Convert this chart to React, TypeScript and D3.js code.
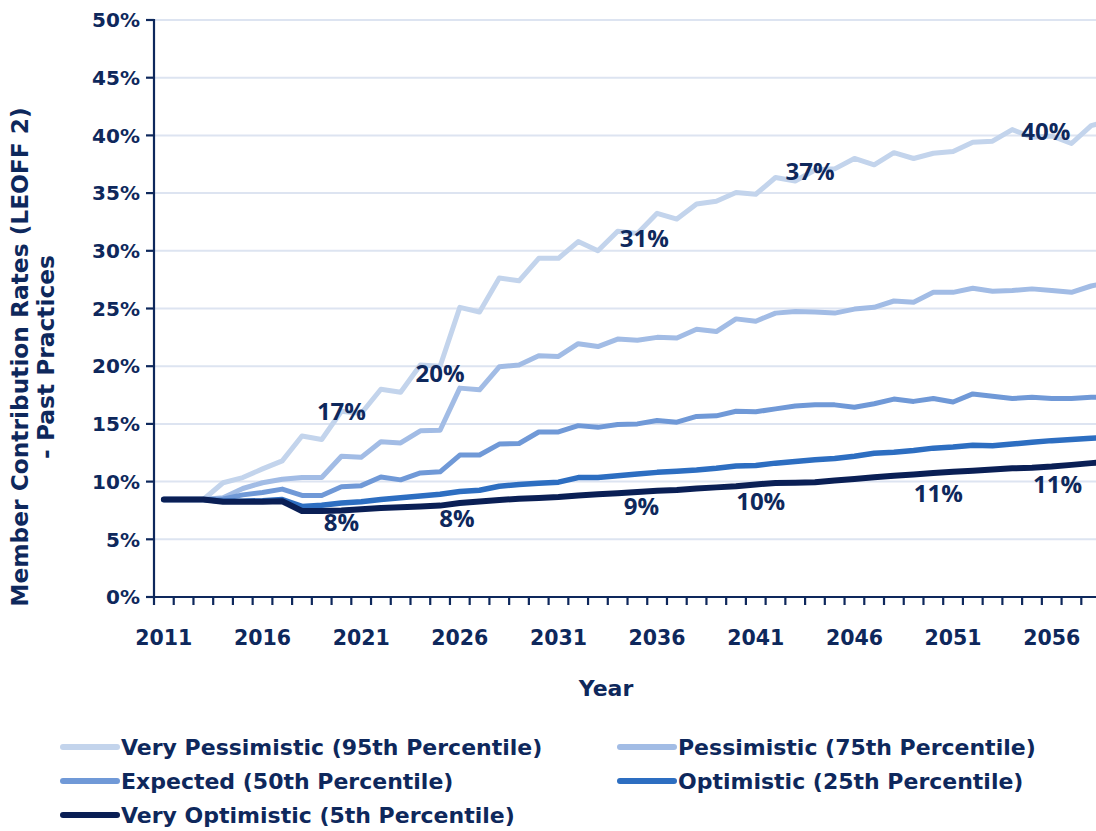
import React from "react";
import * as d3 from "d3";

const years: number[] = [
  2011, 2012, 2013, 2014, 2015, 2016, 2017, 2018, 2019, 2020,
  2021, 2022, 2023, 2024, 2025, 2026, 2027, 2028, 2029, 2030,
  2031, 2032, 2033, 2034, 2035, 2036, 2037, 2038, 2039, 2040,
  2041, 2042, 2043, 2044, 2045, 2046, 2047, 2048, 2049, 2050,
  2051, 2052, 2053, 2054, 2055, 2056, 2057, 2058, 2059,
];

const veryPessimistic: number[] = [
  8.45, 8.45, 8.45, 9.9, 10.35, 11.1, 11.8, 13.95, 13.65, 16.1,
  15.9, 18.0, 17.75, 20.1, 20.0, 25.1, 24.7, 27.65, 27.4, 29.35,
  29.35, 30.8, 30.0, 31.7, 31.5, 33.25, 32.75, 34.05, 34.3, 35.05,
  34.9, 36.35, 36.05, 37.0, 37.1, 38.0, 37.45, 38.5, 38.0, 38.45,
  38.6, 39.4, 39.5, 40.5, 39.85, 39.95, 39.3, 40.85, 41.3,
];
const pessimistic: number[] = [
  8.45, 8.45, 8.45, 8.6, 9.4, 9.9, 10.2, 10.35, 10.35, 12.2,
  12.1, 13.45, 13.35, 14.4, 14.45, 18.1, 17.95, 19.95, 20.1, 20.9,
  20.85, 21.95, 21.7, 22.35, 22.25, 22.5, 22.45, 23.2, 23.0, 24.1,
  23.9, 24.6, 24.75, 24.7, 24.6, 24.95, 25.1, 25.65, 25.55, 26.4,
  26.4, 26.75, 26.5, 26.55, 26.7, 26.55, 26.4, 26.95, 27.3,
];
const expected: number[] = [
  8.45, 8.45, 8.45, 8.5, 8.85, 9.05, 9.35, 8.8, 8.8, 9.55,
  9.65, 10.4, 10.15, 10.75, 10.85, 12.3, 12.3, 13.25, 13.3, 14.3,
  14.3, 14.85, 14.7, 14.95, 15.0, 15.3, 15.15, 15.65, 15.7, 16.1,
  16.05, 16.3, 16.55, 16.65, 16.65, 16.45, 16.75, 17.15, 16.95, 17.2,
  16.9, 17.6, 17.4, 17.2, 17.3, 17.2, 17.2, 17.3, 17.35,
];
const optimistic: number[] = [
  8.45, 8.45, 8.45, 8.3, 8.3, 8.35, 8.45, 7.85, 7.95, 8.15,
  8.25, 8.45, 8.6, 8.75, 8.9, 9.15, 9.25, 9.6, 9.75, 9.85,
  9.95, 10.35, 10.35, 10.5, 10.65, 10.8, 10.9, 11.0, 11.15, 11.35,
  11.4, 11.6, 11.75, 11.9, 12.0, 12.2, 12.45, 12.55, 12.7, 12.9,
  13.0, 13.15, 13.1, 13.25, 13.4, 13.55, 13.65, 13.75, 13.85,
];
const veryOptimistic: number[] = [
  8.45, 8.45, 8.45, 8.25, 8.25, 8.25, 8.3, 7.45, 7.45, 7.5,
  7.6, 7.72, 7.78, 7.85, 7.92, 8.15, 8.28, 8.4, 8.52, 8.58,
  8.66, 8.8, 8.9, 9.0, 9.1, 9.2, 9.28, 9.4, 9.5, 9.6,
  9.75, 9.88, 9.9, 9.95, 10.1, 10.23, 10.37, 10.5, 10.62, 10.75,
  10.85, 10.95, 11.05, 11.15, 11.2, 11.3, 11.45, 11.6, 11.75,
];

const seriesNames: string[] = [
  "Very Pessimistic (95th Percentile)",
  "Pessimistic (75th Percentile)",
  "Expected (50th Percentile)",
  "Optimistic (25th Percentile)",
  "Very Optimistic (5th Percentile)",
];
const seriesColors: string[] = ["#C3D4EC", "#A2BCE5", "#7099D7", "#2D6EC1", "#0A1F55"];
const seriesWidths: number[] = [5, 5, 5, 5.5, 6];
const seriesValues: number[][] = [veryPessimistic, pessimistic, expected, optimistic, veryOptimistic];

const yTicks: number[] = [0, 5, 10, 15, 20, 25, 30, 35, 40, 45, 50];
const xTickLabels: number[] = [2011, 2016, 2021, 2026, 2031, 2036, 2041, 2046, 2051, 2056];

// annotation labels: anchor year, anchor value, text
const labelYears: number[] = [2020, 2025.0, 2035.35, 2043.75, 2055.7, 2020, 2025.85, 2035.2, 2041.25, 2050.25, 2056.3];
const labelValues: number[] = [15.3, 18.6, 30.3, 36.1, 39.6, 5.7, 6.05, 7.1, 7.5, 8.2, 9.05];
const labelTexts: string[] = ["17%", "20%", "31%", "37%", "40%", "8%", "8%", "9%", "10%", "11%", "11%"];

const W = 1096;
const H = 831;
const left = 154;
const top = 20;
const bottom = 597;
const step = 19.73;
const navy = "#0E285C";

export default function App() {
  const x = d3
    .scaleBand<number>()
    .domain(years)
    .range([left, left + step * years.length])
    .paddingInner(0)
    .paddingOuter(0);
  const xc = (yr: number) => (x(yr) as number) + x.bandwidth() / 2;
  const xl = d3.scaleLinear().domain([years[0], years[1]]).range([xc(years[0]), xc(years[1])]);
  const y = d3.scaleLinear().domain([0, 50]).range([bottom, top]);

  const line = d3
    .line<number>()
    .x((_, i) => xc(years[i]))
    .y((d) => y(d));

  const legendRows = [747, 781, 815];
  const legendCols = [63, 620];

  return (
    <svg
      width={W}
      height={H}
      style={{ position: "absolute", left: 0, top: 0, background: "#fff" }}
      fontFamily="'DejaVu Sans', sans-serif"
    >
      <rect x={0} y={0} width={W} height={H} fill="#fff" />
      {yTicks.filter((t) => t > 0).map((t) => (
        <line key={"g" + t} x1={left} x2={W} y1={y(t)} y2={y(t)} stroke="#DDE4F1" strokeWidth={2} />
      ))}
      {seriesValues.map((vals, k) => (
        <path
          key={"s" + k}
          d={line(vals) || ""}
          fill="none"
          stroke={seriesColors[k]}
          strokeWidth={seriesWidths[k]}
          strokeLinejoin="round"
          strokeLinecap="round"
        />
      ))}
      <line x1={left} x2={left} y1={top - 1} y2={bottom} stroke={navy} strokeWidth={2.2} />
      {yTicks.map((t) => (
        <g key={"yt" + t}>
          <line x1={left - 8} x2={left} y1={y(t)} y2={y(t)} stroke={navy} strokeWidth={2.2} />
          <text x={140} y={y(t)} dy="0.36em" textAnchor="end" fontSize={20} fontWeight="bold" fill={navy}>
            {t}%
          </text>
        </g>
      ))}
      <line x1={left} x2={W} y1={bottom} y2={bottom} stroke={navy} strokeWidth={2.2} />
      {years.map((yr) => (
        <line
          key={"xt" + yr}
          x1={x(yr) as number}
          x2={x(yr) as number}
          y1={bottom}
          y2={bottom + 8}
          stroke={navy}
          strokeWidth={2.2}
        />
      ))}
      {xTickLabels.map((yr) => (
        <text key={"xl" + yr} x={xc(yr)} y={645} textAnchor="middle" fontSize={20.5} fontWeight="bold" fill={navy}>
          {yr}
        </text>
      ))}
      <text x={606} y={696} textAnchor="middle" fontSize={22} fontWeight="bold" fill={navy}>
        Year
      </text>
      <g transform="translate(28,357) rotate(-90)">
        <text x={0} y={0} textAnchor="middle" fontSize={23.3} fontWeight="bold" fill={navy}>
          Member Contribution Rates (LEOFF 2)
        </text>
        <text x={0} y={26} textAnchor="middle" fontSize={23.3} fontWeight="bold" fill={navy}>
          - Past Practices
        </text>
      </g>
      {labelTexts.map((t, i) => (
        <text
          key={"dl" + i}
          x={xl(labelYears[i])}
          y={y(labelValues[i])}
          textAnchor="middle"
          fontFamily="'Open Sans', sans-serif"
          fontSize={24}
          fontWeight="bold"
          fill={navy}
        >
          {t}
        </text>
      ))}
      {seriesNames.map((name, k) => {
        const row = Math.floor(k / 2);
        const col = k % 2;
        const lx = legendCols[col];
        const ly = legendRows[row];
        return (
          <g key={"lg" + k}>
            <line x1={lx} x2={lx + 54} y1={ly} y2={ly} stroke={seriesColors[k]} strokeWidth={6} strokeLinecap="round" />
            <text x={lx + 58} y={ly} dy="0.36em" fontSize={22} fontWeight="bold" fill={navy}>
              {name}
            </text>
          </g>
        );
      })}
    </svg>
  );
}
